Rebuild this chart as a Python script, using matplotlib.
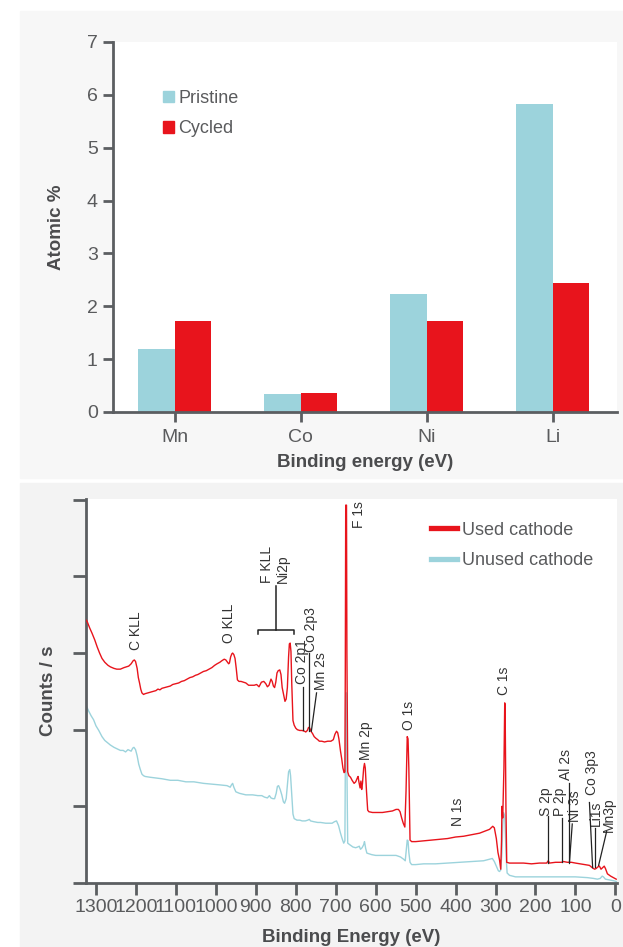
import matplotlib
matplotlib.use("Agg")
import matplotlib.pyplot as plt
from matplotlib.patches import Rectangle, Patch
from matplotlib.lines import Line2D

# --- painel superior: % atômico ---
elementos = ["Mn", "Co", "Ni", "Li"]
pristine = [1.19, 0.34, 2.23, 5.83]
cycled = [1.72, 0.36, 1.72, 2.44]

# --- painel inferior: espectro XPS (energia em eV, contagens em unidades arbitrárias) ---
energia_usado = [1325, 1322, 1316, 1310, 1303, 1297, 1291, 1285, 1278, 1270, 1264, 1255, 1248, 1239,
                 1230, 1224, 1218, 1212, 1207, 1204, 1201, 1197, 1194, 1191, 1188, 1185, 1181, 1177,
                 1170, 1163, 1156, 1150, 1145, 1140, 1135, 1128, 1121, 1114, 1108, 1100, 1093, 1086,
                 1079, 1072, 1065, 1058, 1051, 1045, 1038, 1031, 1024, 1017, 1010, 1003, 997, 990,
                 985, 979, 975, 971, 968, 966, 963, 960, 958, 955, 952, 949, 946, 942, 937, 931, 925,
                 918, 912, 904, 898, 892, 886, 880, 875, 871, 867, 862, 859, 856, 853, 850, 847, 844,
                 840, 837, 834, 830, 827, 824, 821, 818, 816, 814, 812, 810, 807, 804, 800, 796, 790,
                 784, 778, 775, 771, 768, 765, 762, 758, 754, 750, 745, 741, 735, 728, 720, 712, 706,
                 702, 698, 695, 692, 688, 685, 682, 679, 677, 676, 675, 673, 672, 670, 667, 663, 659,
                 654, 650, 646, 644, 642, 639, 637, 635, 633, 630, 628, 626, 623, 620, 617, 608, 597,
                 583, 570, 558, 549, 543, 539, 535, 531, 527, 524, 521, 519, 517, 514, 510, 500, 480,
                 460, 440, 420, 400, 380, 360, 340, 325, 315, 307, 303, 298, 294, 290, 287, 285, 284,
                 282, 279, 277, 276, 274, 272, 265, 250, 230, 210, 190, 172, 168, 165, 150, 135, 130,
                 120, 110, 100, 88, 75, 65, 58, 52, 48, 44, 40, 36, 32, 28, 25, 20, 12, 5, -2]
contagens_usado = [3.43, 3.41, 3.33, 3.26, 3.17, 3.08, 3.00, 2.93, 2.88, 2.84, 2.82, 2.80, 2.79, 2.79,
                   2.81, 2.82, 2.83, 2.86, 2.90, 2.91, 2.89, 2.80, 2.68, 2.61, 2.53, 2.48, 2.46, 2.47,
                   2.48, 2.49, 2.50, 2.51, 2.53, 2.52, 2.54, 2.55, 2.56, 2.57, 2.59, 2.60, 2.61, 2.63,
                   2.64, 2.66, 2.68, 2.69, 2.71, 2.72, 2.74, 2.76, 2.77, 2.79, 2.81, 2.84, 2.86, 2.88,
                   2.90, 2.92, 2.91, 2.88, 2.86, 2.87, 2.95, 2.99, 3.00, 2.98, 2.93, 2.80, 2.65, 2.63,
                   2.63, 2.62, 2.61, 2.58, 2.58, 2.58, 2.59, 2.56, 2.62, 2.63, 2.60, 2.56, 2.58, 2.66,
                   2.63, 2.57, 2.55, 2.62, 2.74, 2.77, 2.78, 2.72, 2.55, 2.45, 2.37, 2.40, 2.55, 2.95,
                   3.12, 3.13, 3.02, 2.60, 2.12, 2.06, 2.02, 2.00, 1.99, 1.99, 1.98, 1.97, 1.99, 2.03,
                   2.02, 1.98, 1.95, 1.91, 1.89, 1.87, 1.85, 1.85, 1.84, 1.85, 1.85, 1.87, 1.94, 1.98,
                   1.96, 1.88, 1.72, 1.62, 1.50, 1.44, 1.45, 2.80, 4.93, 4.93, 3.00, 1.45, 1.40, 1.38,
                   1.34, 1.30, 1.32, 1.37, 1.39, 1.32, 1.24, 1.33, 1.22, 1.30, 1.50, 1.56, 1.50, 1.20,
                   0.95, 0.93, 0.92, 0.92, 0.92, 0.93, 0.94, 0.96, 0.96, 0.93, 0.85, 0.78, 0.73, 1.20,
                   1.91, 1.88, 1.50, 0.56, 0.54, 0.54, 0.55, 0.56, 0.57, 0.58, 0.60, 0.61, 0.63, 0.65,
                   0.68, 0.70, 0.74, 0.72, 0.58, 0.40, 0.30, 0.18, 0.55, 1.00, 0.85, 1.50, 2.35, 2.30,
                   1.00, 0.27, 0.26, 0.26, 0.26, 0.25, 0.26, 0.26, 0.29, 0.26, 0.27, 0.27, 0.28, 0.27,
                   0.27, 0.26, 0.25, 0.24, 0.23, 0.20, 0.18, 0.19, 0.21, 0.22, 0.18, 0.20, 0.22, 0.19,
                   0.12, 0.09, 0.07, 0.05]

energia_novo = [1325, 1318, 1312, 1306, 1300, 1293, 1285, 1278, 1271, 1264, 1255, 1247, 1239, 1232,
                1226, 1220, 1216, 1212, 1208, 1205, 1201, 1197, 1193, 1189, 1185, 1181, 1177, 1165,
                1150, 1135, 1114, 1095, 1075, 1055, 1031, 1010, 990, 972, 964, 961, 958, 955, 950,
                941, 925, 908, 895, 885, 878, 871, 866, 862, 857, 853, 849, 846, 843, 839, 835, 831,
                828, 824, 821, 818, 815, 813, 810, 807, 804, 797, 790, 784, 776, 770, 766, 763, 755,
                745, 738, 725, 712, 709, 703, 698, 693, 688, 684, 680, 677, 676, 675, 673, 672, 670,
                665, 657, 650, 645, 641, 638, 634, 630, 628, 625, 622, 610, 600, 590, 570, 549, 538,
                530, 526, 523, 521, 519, 517, 514, 510, 500, 480, 450, 420, 390, 360, 330, 315, 308,
                303, 298, 293, 290, 287, 284, 282, 280, 277, 275, 273, 271, 265, 250, 200, 150, 100,
                70, 55, 45, 38, 33, 30, 25, 15, 5, -2]
contagens_novo = [2.32, 2.24, 2.18, 2.13, 2.05, 1.99, 1.91, 1.86, 1.83, 1.80, 1.77, 1.75, 1.73, 1.73,
                  1.71, 1.74, 1.73, 1.72, 1.76, 1.77, 1.74, 1.66, 1.55, 1.48, 1.42, 1.40, 1.39, 1.38,
                  1.37, 1.36, 1.34, 1.34, 1.32, 1.32, 1.30, 1.29, 1.28, 1.27, 1.25, 1.28, 1.30, 1.25,
                  1.19, 1.17, 1.15, 1.15, 1.14, 1.14, 1.12, 1.11, 1.14, 1.11, 1.10, 1.10, 1.17, 1.26,
                  1.27, 1.22, 1.15, 1.06, 1.04, 1.10, 1.28, 1.45, 1.48, 1.40, 1.15, 0.90, 0.84, 0.82,
                  0.82, 0.81, 0.81, 0.82, 0.83, 0.81, 0.80, 0.79, 0.79, 0.78, 0.78, 0.78, 0.80, 0.81,
                  0.75, 0.65, 0.58, 0.52, 0.55, 1.60, 2.48, 2.48, 1.50, 0.52, 0.50, 0.47, 0.46, 0.47,
                  0.48, 0.44, 0.46, 0.50, 0.54, 0.45, 0.39, 0.37, 0.36, 0.36, 0.36, 0.36, 0.34, 0.31,
                  0.29, 0.45, 0.56, 0.55, 0.40, 0.27, 0.24, 0.24, 0.25, 0.25, 0.26, 0.27, 0.28, 0.29,
                  0.31, 0.32, 0.28, 0.22, 0.16, 0.15, 0.17, 0.40, 0.75, 0.92, 0.88, 0.60, 0.30, 0.13,
                  0.10, 0.08, 0.08, 0.08, 0.08, 0.07, 0.06, 0.05, 0.06, 0.09, 0.08, 0.05, 0.04, 0.03,
                  0.02]

# rótulos dos picos: texto, energia do texto, altura da base do texto
picos_texto = ["C KLL", "O KLL", "F KLL", "Ni2p", "Co 2p1", "Co 2p3", "Mn 2s", "F 1s", "Mn 2p",
               "O 1s", "N 1s", "C 1s", "S 2p", "P 2p", "Al 2s", "Ni 3s", "Co 3p3", "Li1s", "Mn3p"]
picos_energia = [1200, 967, 873, 832, 785, 761, 736, 642, 625, 517, 394, 279, 173, 139, 123, 100,
                 58, 48, 17]
picos_altura = [3.04, 3.13, 3.92, 3.92, 2.60, 3.02, 2.52, 4.63, 1.61, 1.99, 0.74, 2.45, 0.87, 0.87,
                1.34, 0.79, 1.15, 0.74, 0.67]

# linhas indicadoras: (energia inicial, altura inicial, energia final, altura final)
linhas_e0 = [783, 766, 748, 169, 134, 117, 108, 65, 50, 22]
linhas_y0 = [2.56, 3.00, 2.48, 0.87, 0.85, 1.31, 0.77, 1.05, 0.72, 0.67]
linhas_e1 = [783, 766, 761, 169, 134, 117, 115, 57, 50, 42]
linhas_y1 = [2.00, 1.98, 1.98, 0.26, 0.27, 0.26, 0.27, 0.20, 0.21, 0.23]

# colchete F KLL / Ni2p
colchete_e = [894, 894, 804, 804]
colchete_y = [3.25, 3.30, 3.30, 3.25]
colchete_haste_e = [850, 850]
colchete_haste_y = [3.30, 3.87]

AZUL = "#9cd3dc"
VERMELHO = "#e8141c"
EIXO = "#5b5e61"
TEXTO = "#5a5b5d"
TITULO = "#4b4c4e"
W, H = 623, 947

plt.rcParams["font.family"] = ["Liberation Sans", "DejaVu Sans"]


def fx(px):
    return px / W


def fy(py):
    return 1 - py / H


def estilo_eixos(ax, tamanho=14):
    for lado in ["top", "right"]:
        ax.spines[lado].set_visible(False)
    for lado in ["left", "bottom"]:
        ax.spines[lado].set_color(EIXO)
        ax.spines[lado].set_linewidth(2.0)
    ax.tick_params(colors=EIXO, width=2.0, labelcolor=TEXTO, labelsize=tamanho)


def grafico_barras(fig):
    ax = fig.add_axes([fx(113), fy(412), fx(617) - fx(113), fy(42) - fy(412)])
    pos = list(range(len(elementos)))
    ax.bar([p - 0.145 for p in pos], pristine, width=0.29, color=AZUL, label="Pristine")
    ax.bar([p + 0.145 for p in pos], cycled, width=0.29, color=VERMELHO, label="Cycled")
    ax.set_xlim(-0.49, 3.51)
    ax.set_ylim(0, 7)
    ax.set_xticks(pos)
    ax.set_xticklabels(elementos)
    ax.set_yticks(range(0, 8))
    estilo_eixos(ax)
    ax.tick_params(axis="y", length=7, pad=4)
    ax.tick_params(axis="x", length=7, pad=5)
    ax.set_ylabel("Atomic %", fontsize=13.5, fontweight="bold", color=TITULO)
    ax.yaxis.set_label_coords(-0.095, 0.5)
    ax.set_xlabel("Binding energy (eV)", fontsize=13.5, fontweight="bold", color=TITULO)
    ax.xaxis.set_label_coords(0.5, -0.114)

    alcas = [Patch(color=AZUL), Patch(color=VERMELHO)]
    leg = ax.legend(alcas, ["Pristine", "Cycled"], loc="upper left", bbox_to_anchor=(0.085, 0.89),
                    frameon=False, fontsize=13, handlelength=0.6, handleheight=0.6,
                    handletextpad=0.25, labelspacing=0.75, borderaxespad=0)
    for t in leg.get_texts():
        t.set_color(TEXTO)


def grafico_espectro(fig):
    ax = fig.add_axes([fx(86), fy(883), fx(617) - fx(86), fy(499) - fy(883)])
    ax.plot(energia_novo, contagens_novo, color=AZUL, lw=1.0, label="Unused cathode", zorder=2)
    ax.plot(energia_usado, contagens_usado, color=VERMELHO, lw=1.0, label="Used cathode", zorder=3)
    ax.set_xlim(1325, -4)
    ax.set_ylim(0, 5.01)
    ax.set_xticks(range(1300, -1, -100))
    ax.set_yticks(range(0, 6))
    ax.set_yticklabels([])
    estilo_eixos(ax, tamanho=14)
    ax.tick_params(axis="y", length=9.5)
    ax.tick_params(axis="x", length=8.5, pad=3)
    ax.set_ylabel("Counts / s", fontsize=13.5, fontweight="bold", color=TITULO)
    ax.yaxis.set_label_coords(-0.055, 0.5)
    ax.set_xlabel("Binding Energy (eV)", fontsize=13.5, fontweight="bold", color=TITULO)
    ax.xaxis.set_label_coords(0.5, -0.12)

    for txt, e, y in zip(picos_texto, picos_energia, picos_altura):
        ax.text(e, y, txt, rotation=90, ha="center", va="bottom", fontsize=10, color="#333333")
    for e0, y0, e1, y1 in zip(linhas_e0, linhas_y0, linhas_e1, linhas_y1):
        ax.plot([e0, e1], [y0, y1], color="#222222", lw=0.9, zorder=4)
    ax.plot(colchete_e, colchete_y, color="#222222", lw=1.1)
    ax.plot(colchete_haste_e, colchete_haste_y, color="#222222", lw=1.1)

    alcas = [Line2D([], [], color=VERMELHO, lw=3.8), Line2D([], [], color=AZUL, lw=3.8)]
    leg = ax.legend(alcas, ["Used cathode", "Unused cathode"], loc="upper left",
                    bbox_to_anchor=(0.637, 0.96), frameon=False, fontsize=13,
                    handlelength=1.4, handletextpad=0.3, labelspacing=0.75, borderaxespad=0)
    for t in leg.get_texts():
        t.set_color(TEXTO)


def main():
    fig = plt.figure(figsize=(W / 100, H / 100), dpi=100)
    # fundos cinza dos dois painéis
    fig.add_artist(Rectangle((fx(20), fy(478)), 1 - fx(20), fy(11) - fy(478),
                             transform=fig.transFigure, color="#f7f7f7", zorder=0))
    fig.add_artist(Rectangle((fx(20), 0), 1 - fx(20), fy(483),
                             transform=fig.transFigure, color="#f3f3f3", zorder=0))
    grafico_barras(fig)
    grafico_espectro(fig)
    fig.savefig("out.png", dpi=100)


if __name__ == "__main__":
    main()
